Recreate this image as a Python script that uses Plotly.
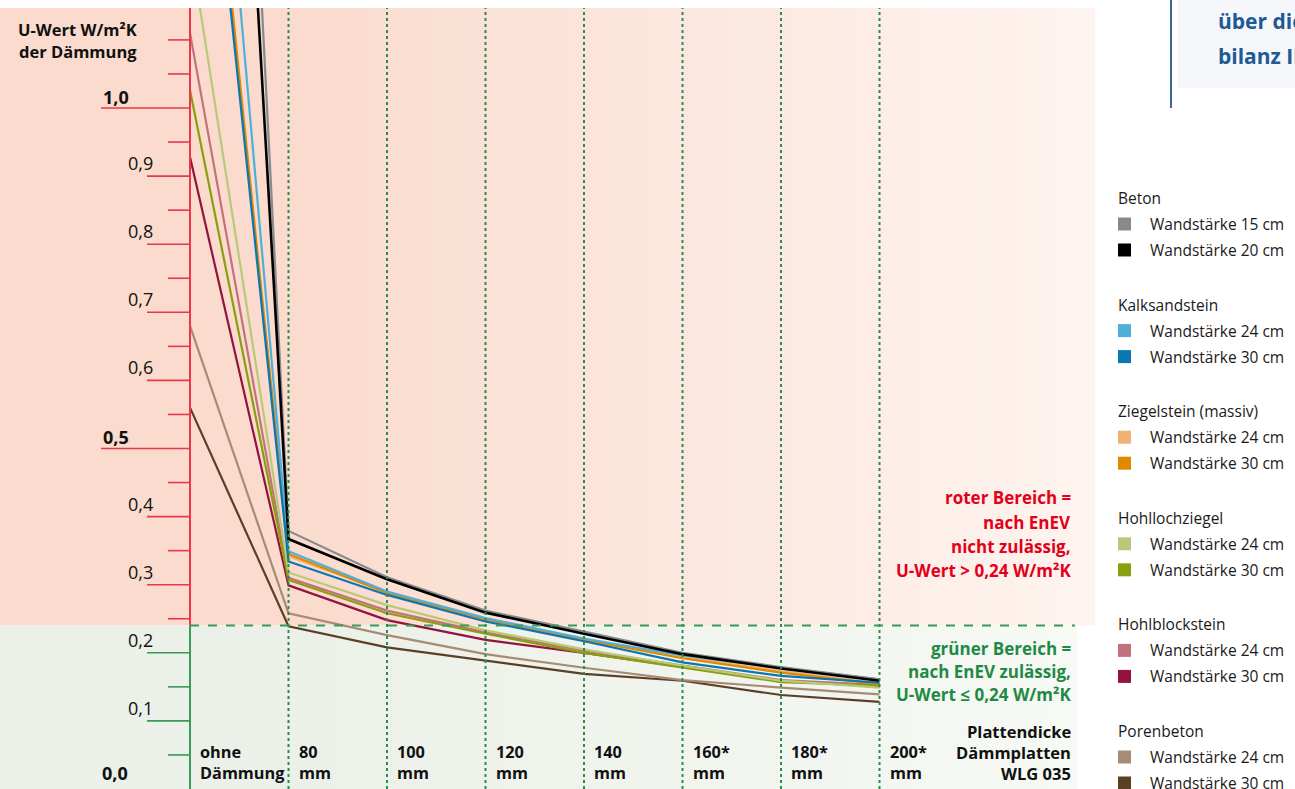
import plotly.graph_objects as go

# ---------------- data ----------------
categories = ["ohne", "80", "100", "120", "140", "160*", "180*", "200*"]
category_units = ["Dämmung", "mm", "mm", "mm", "mm", "mm", "mm", "mm"]

beton_15 = [3.23, 0.379, 0.311, 0.262, 0.231, 0.200, 0.179, 0.161]
beton_20 = [2.88, 0.367, 0.308, 0.259, 0.228, 0.198, 0.177, 0.159]
kalksandstein_24 = [1.985, 0.349, 0.290, 0.251, 0.221, 0.196, 0.178, 0.161]
kalksandstein_30 = [1.714, 0.334, 0.285, 0.246, 0.217, 0.186, 0.166, 0.156]
ziegel_24 = [1.73, 0.342, 0.289, 0.250, 0.220, 0.194, 0.173, 0.155]
ziegel_30 = [1.75, 0.345, 0.288, 0.249, 0.219, 0.192, 0.171, 0.154]
hohlloch_24 = [1.24, 0.318, 0.270, 0.233, 0.205, 0.181, 0.159, 0.149]
hohlloch_30 = [1.026, 0.307, 0.258, 0.228, 0.200, 0.178, 0.157, 0.152]
hohlblock_24 = [1.11, 0.310, 0.262, 0.230, 0.203, 0.182, 0.160, 0.153]
hohlblock_30 = [0.928, 0.299, 0.248, 0.219, 0.200, 0.179, 0.159, 0.150]
poren_24 = [0.68, 0.258, 0.226, 0.198, 0.178, 0.160, 0.149, 0.139]
poren_30 = [0.56, 0.239, 0.208, 0.188, 0.169, 0.159, 0.138, 0.128]

groups = ["Beton", "Kalksandstein", "Ziegelstein (massiv)", "Hohllochziegel", "Hohlblockstein", "Porenbeton"]
group_items = [["Wandstärke 15 cm", "Wandstärke 20 cm"]] + [["Wandstärke 24 cm", "Wandstärke 30 cm"]] * 5
group_series = [[beton_15, beton_20], [kalksandstein_24, kalksandstein_30], [ziegel_24, ziegel_30],
                [hohlloch_24, hohlloch_30], [hohlblock_24, hohlblock_30], [poren_24, poren_30]]
group_colors = [["#868a8e", "#000000"], ["#4eafd8", "#0a76b2"], ["#f0b272", "#e08800"],
                ["#b9c97a", "#8a9f0e"], ["#c2727a", "#93123e"], ["#a88b72", "#5b3f25"]]

threshold = 0.24
tick_values = [0.1, 0.2, 0.3, 0.4, 0.5, 0.6, 0.7, 0.8, 0.9, 1.0]
tick_labels = ["0,1", "0,2", "0,3", "0,4", "0,5", "0,6", "0,7", "0,8", "0,9", "1,0"]
bold_ticks = [0.5, 1.0]
minor_ticks = [0.05, 0.15, 0.25, 0.35, 0.45, 0.55, 0.65, 0.75, 0.85, 0.95, 1.05, 1.1]

# ---------------- layout helpers ----------------
W, H = 1295, 789
FONT = "Open Sans"
RED = "#e2001a"
GREEN = "#1f8a45"
GRID_GREEN = "#2e8b4e"
AXIS_RED = "#e8384a"
AXIS_GREEN = "#3a9a5a"


def px(x):
    return x / W


def py(y):
    return 1 - y / H


# data <-> pixel mapping used only to set ranges
X0_PX, X_STEP = 190.0, 98.5
Y0_PX, Y_STEP = 789.0, 681.0
x_range = [(0 - X0_PX) / X_STEP, (W - X0_PX) / X_STEP]
y_range = [0.0, (Y0_PX - 8) / Y_STEP]

fig = go.Figure()

# ---------------- traces ----------------
draw_order = [(5, 1), (5, 0), (4, 1), (4, 0), (3, 1), (3, 0), (2, 0), (2, 1), (1, 0), (1, 1), (0, 0), (0, 1)]
xs = list(range(len(categories)))
for g, i in draw_order:
    fig.add_trace(go.Scatter(
        x=xs, y=group_series[g][i], mode="lines",
        line=dict(color=group_colors[g][i], width=2.6 if group_colors[g][i] == "#000000" else 2.2),
        name=f"{groups[g]} – {group_items[g][i]}", showlegend=False, hoverinfo="skip", cliponaxis=True,
    ))

shapes = []
annotations = []


def mix(c1, c2, t):
    return "rgb(%d,%d,%d)" % tuple(round(a + (b - a) * t) for a, b in zip(c1, c2))


# background gradients
red_l, red_r = (250, 219, 205), (254, 244, 240)
grn_l, grn_r = (235, 240, 232), (246, 249, 244)
y_thr_px = Y0_PX - threshold * Y_STEP
step = 12
for cl, cr, y0, y1, xend, fade0 in [
        (red_l, red_r, 8, y_thr_px, 1095, 280),
        (grn_l, grn_r, y_thr_px, H, 1077, 280)]:
    x = 0
    while x < xend:
        xe = min(x + step, xend)
        t = 0 if x < fade0 else (x - fade0) / (xend - fade0)
        shapes.append(dict(type="rect", xref="paper", yref="paper", x0=px(x), x1=px(min(xe + 1, xend)),
                           y0=py(y1), y1=py(y0), fillcolor=mix(cl, cr, t), line=dict(width=0), layer="below"))
        x = xe

# top-right box
shapes.append(dict(type="rect", xref="paper", yref="paper", x0=px(1178), x1=px(1295), y0=py(88), y1=py(0),
                   fillcolor="#f6f7fa", line=dict(width=0), layer="below"))
shapes.append(dict(type="line", xref="paper", yref="paper", x0=px(1171), x1=px(1171), y0=py(108), y1=py(0),
                   line=dict(color="#3b6a98", width=2)))

# vertical dotted gridlines
for i in xs[1:]:
    shapes.append(dict(type="line", xref="x", yref="paper", x0=i, x1=i, y0=0, y1=py(8),
                       line=dict(color=GRID_GREEN, width=2, dash="dot"), layer="above"))
# threshold dashed line
shapes.append(dict(type="line", xref="x", yref="y", x0=0, x1=(1075 - X0_PX) / X_STEP, y0=threshold, y1=threshold,
                   line=dict(color=AXIS_GREEN, width=2, dash="dash"), layer="above"))
# y axis line (red above threshold, green below)
shapes.append(dict(type="line", xref="x", yref="y", x0=0, x1=0, y0=threshold, y1=y_range[1],
                   line=dict(color=AXIS_RED, width=2), layer="above"))
shapes.append(dict(type="line", xref="x", yref="y", x0=0, x1=0, y0=0, y1=threshold,
                   line=dict(color=AXIS_GREEN, width=2), layer="above"))

# ticks
xl_major = (147 - X0_PX) / X_STEP
xl_bold = (101 - X0_PX) / X_STEP
xl_minor = (168 - X0_PX) / X_STEP
for v, lab in zip(tick_values, tick_labels):
    col = AXIS_RED if v > threshold else AXIS_GREEN
    bold = v in bold_ticks
    shapes.append(dict(type="line", xref="x", yref="y", x0=xl_bold if bold else xl_major, x1=0, y0=v, y1=v,
                       line=dict(color=col, width=1.6)))
    ypx = Y0_PX - v * Y_STEP
    if bold:
        annotations.append(dict(text=f"<b>{lab}</b>", xref="paper", yref="paper", x=px(101), y=py(ypx - 11),
                                xanchor="left", yanchor="middle", showarrow=False,
                                font=dict(family=FONT, size=18, color="#111")))
    else:
        annotations.append(dict(text=lab, xref="paper", yref="paper", x=px(155), y=py(ypx - 13),
                                xanchor="right", yanchor="middle", showarrow=False,
                                font=dict(family=FONT, size=18, color="#111")))
for v in minor_ticks:
    col = AXIS_RED if v > threshold else AXIS_GREEN
    shapes.append(dict(type="line", xref="x", yref="y", x0=xl_minor, x1=0, y0=v, y1=v,
                       line=dict(color=col, width=1.6)))
annotations.append(dict(text="<b>0,0</b>", xref="paper", yref="paper", x=px(100), y=py(773),
                        xanchor="left", yanchor="middle", showarrow=False,
                        font=dict(family=FONT, size=18, color="#111")))


def text_lines(lines, x, y_centers, anchor, color, size, bold=True):
    for t, yc in zip(lines, y_centers):
        annotations.append(dict(text=f"<b>{t}</b>" if bold else t, xref="paper", yref="paper", x=px(x), y=py(yc),
                                xanchor=anchor, yanchor="middle", showarrow=False,
                                font=dict(family=FONT, size=size, color=color)))


# axis title
text_lines(["U-Wert W/m²K", "der Dämmung"], 139, [30, 51], "right", "#111", 16.5)

# category labels
for i, (c, u) in enumerate(zip(categories, category_units)):
    xl = X0_PX + i * X_STEP + 8
    text_lines([c, u], xl, [752, 773], "left", "#111", 16.3)
text_lines(["Plattendicke", "Dämmplatten", "WLG 035"], 1073, [731, 752, 773], "right", "#111", 16.5)

# region texts
text_lines(["roter Bereich =", "nach EnEV", "nicht zulässig,", "U-Wert > 0,24 W/m²K"], 1073,
           [498, 522, 546, 570], "right", RED, 17)
text_lines(["grüner Bereich =", "nach EnEV zulässig,", "U-Wert ≤ 0,24 W/m²K"], 1073,
           [648, 671, 694], "right", GREEN, 17)

# top-right box text (cut by the page edge, as in the source)
text_lines(["über die", "bilanz Ih"], 1216, [21, 56], "left", "#1d5a96", 21)

# legend
for g, name in enumerate(groups):
    yh = 198 + g * 106.6
    text_lines([name], 1116, [yh], "left", "#1a1a1a", 15.5, bold=False)
    for i, item in enumerate(group_items[g]):
        yi = yh + 26 * (i + 1)
        shapes.append(dict(type="rect", xref="paper", yref="paper", x0=px(1118), x1=px(1131),
                           y0=py(yi + 6.5), y1=py(yi - 6.5), fillcolor=group_colors[g][i], line=dict(width=0)))
        text_lines([item], 1148, [yi], "left", "#1a1a1a", 15.5, bold=False)

fig.update_layout(
    width=W, height=H,
    margin=dict(l=0, r=0, t=0, b=0),
    paper_bgcolor="white", plot_bgcolor="rgba(0,0,0,0)",
    xaxis=dict(range=x_range, domain=[0, 1], visible=False, fixedrange=True),
    yaxis=dict(range=y_range, domain=[0, py(8)], visible=False, fixedrange=True),
    shapes=shapes, annotations=annotations, showlegend=False,
    font=dict(family=FONT),
)

fig.write_html("out.html", config={"displayModeBar": False},
               post_script="document.body.style.margin='0';document.body.style.overflow='hidden';")
